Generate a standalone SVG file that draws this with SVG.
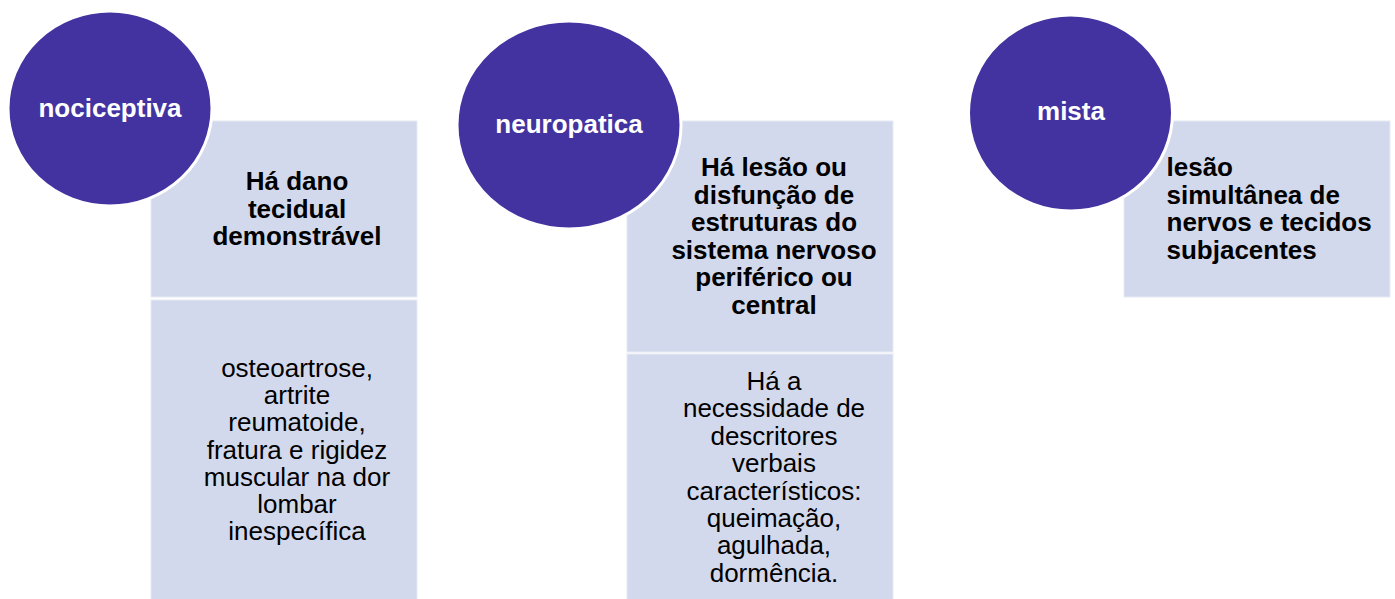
<svg xmlns="http://www.w3.org/2000/svg" width="1395" height="599" viewBox="0 0 1395 599">
<style>
.box{fill:#D3D9EC;stroke:#E6EAF4;stroke-width:1}
.circ{fill:#4333A0;stroke:#FFFFFF;stroke-width:3}
.lbl{font-family:"Liberation Sans",Arial,sans-serif;font-size:26px;font-weight:bold;fill:#FFFFFF;text-anchor:middle}
.bt{font-family:"Liberation Sans",Arial,sans-serif;font-size:26px;font-weight:bold;fill:#000000;text-anchor:middle}
.bl{font-family:"Liberation Sans",Arial,sans-serif;font-size:26px;font-weight:bold;fill:#000000;text-anchor:start}
.rt{font-family:"Liberation Sans",Arial,sans-serif;font-size:26px;fill:#000000;text-anchor:middle}
</style>
<rect width="1395" height="599" fill="#FFFFFF"/>
<g id="connectors"></g>
<g id="node-nociceptiva">
<rect class="box" x="151" y="121" width="266" height="176"/>
<rect class="box" x="151" y="300" width="266" height="300"/>
<ellipse class="circ" cx="110" cy="108.5" rx="102" ry="97.5"/>
<text class="lbl" x="110" y="117">nociceptiva</text>
<text class="bt" x="297"><tspan x="297" y="190">Há dano</tspan><tspan x="297" y="217.5">tecidual</tspan><tspan x="297" y="245">demonstrável</tspan></text>
<text class="rt" x="297"><tspan x="297" y="377">osteoartrose,</tspan><tspan x="297" y="404.2">artrite</tspan><tspan x="297" y="431.4">reumatoide,</tspan><tspan x="297" y="458.6">fratura e rigidez</tspan><tspan x="297" y="485.8">muscular na dor</tspan><tspan x="297" y="513">lombar</tspan><tspan x="297" y="540.2">inespecífica</tspan></text>
</g>
<g id="node-neuropatica">
<rect class="box" x="627" y="121" width="266" height="231"/>
<rect class="box" x="627" y="354" width="266" height="246"/>
<ellipse class="circ" cx="569" cy="125" rx="112" ry="104"/>
<text class="lbl" x="569" y="133">neuropatica</text>
<text class="bt" x="774"><tspan x="774" y="176">Há lesão ou</tspan><tspan x="774" y="203.6">disfunção de</tspan><tspan x="774" y="231.2">estruturas do</tspan><tspan x="774" y="258.8">sistema nervoso</tspan><tspan x="774" y="286.4">periférico ou</tspan><tspan x="774" y="314">central</tspan></text>
<text class="rt" x="774"><tspan x="774" y="390">Há a</tspan><tspan x="774" y="417.4">necessidade de</tspan><tspan x="774" y="444.8">descritores</tspan><tspan x="774" y="472.2">verbais</tspan><tspan x="774" y="499.6">característicos:</tspan><tspan x="774" y="527">queimação,</tspan><tspan x="774" y="554.4">agulhada,</tspan><tspan x="774" y="581.8">dormência.</tspan></text>
</g>
<g id="node-mista">
<rect class="box" x="1124" y="121" width="266" height="176"/>
<ellipse class="circ" cx="1070.5" cy="113" rx="102" ry="98"/>
<text class="lbl" x="1071" y="120">mista</text>
<text class="bl"><tspan x="1166.5" y="176">lesão</tspan><tspan x="1166.5" y="203.5">simultânea de</tspan><tspan x="1166.5" y="231">nervos e tecidos</tspan><tspan x="1166.5" y="258.5">subjacentes</tspan></text>
</g>
</svg>
